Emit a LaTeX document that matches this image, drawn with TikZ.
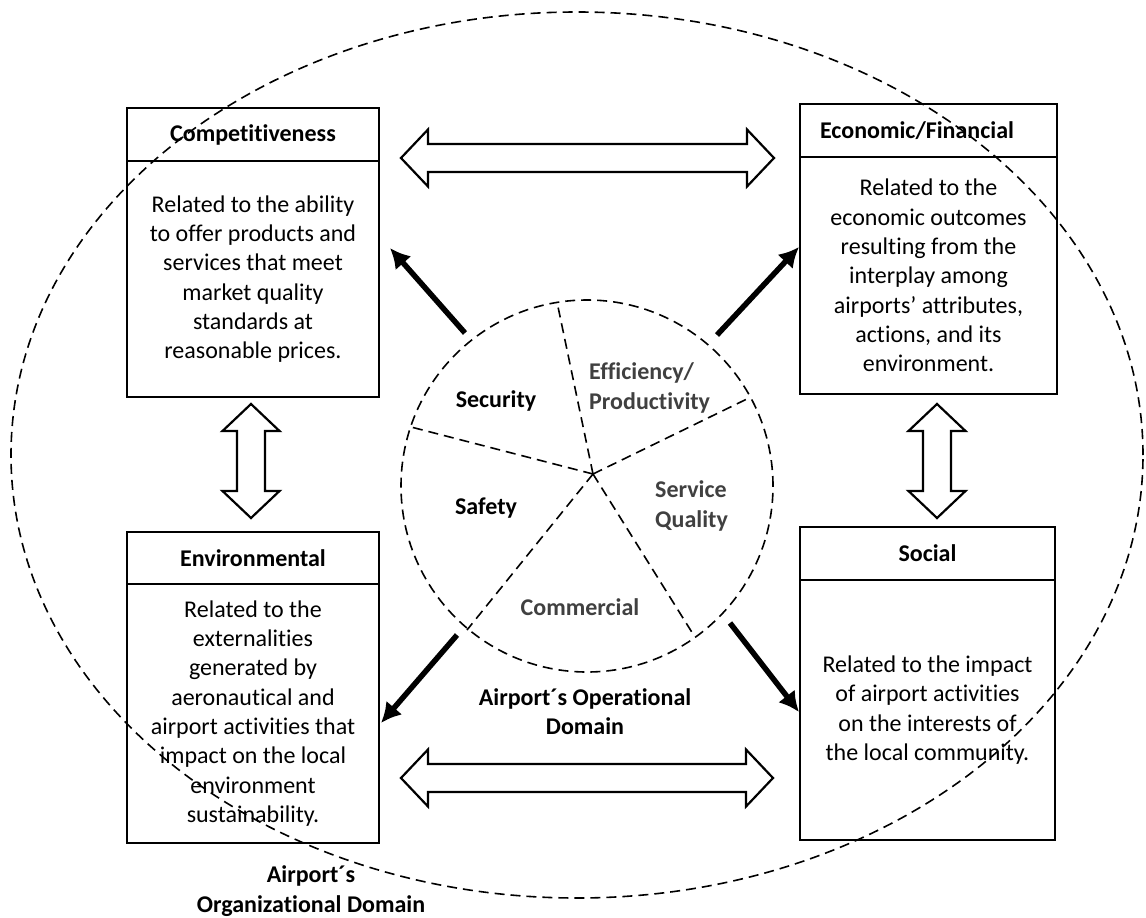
\documentclass[tikz,border=0pt]{standalone}
\usepackage{fontspec}
\setmainfont{Carlito}[Ligatures=NoCommon]
\usetikzlibrary{arrows.meta}
\definecolor{labelgray}{HTML}{404040}
\tikzset{
  % hollow double-headed block arrow of total length #1, centred on the pic origin
  dblarrow/.pic={
    \path[blockarrow] (-#1/2,0) -- (-#1/2+27,-28.5) -- (-#1/2+27,-14) -- (#1/2-27,-14)
      -- (#1/2-27,-28.5) -- (#1/2,0) -- (#1/2-27,28.5) -- (#1/2-27,14)
      -- (-#1/2+27,14) -- (-#1/2+27,28.5) -- cycle;
  }
}
\begin{document}
\begin{tikzpicture}[x=1pt,y=-1pt,
  every node/.style={font=\fontsize{24}{29.3}\selectfont},
  hdr/.style={draw, line width=2.4pt, minimum height=53pt, inner sep=0pt,
    font=\fontsize{24}{29.3}\selectfont\bfseries},
  bodybox/.style={draw, line width=2.4pt, inner sep=0pt, align=center},
  lbl/.style={inner sep=0pt, align=center, font=\fontsize{24}{29.3}\selectfont\bfseries},
  glbl/.style={lbl, text=labelgray},
  dashline/.style={dash pattern=on 10pt off 6pt, line width=1.6pt},
  thickarr/.style={line width=5.5pt, -{Latex[length=20pt,width=21pt]}},
  blockarrow/.style={draw, line width=2.2pt, fill=white, line join=miter},
]
\useasboundingbox (0,0) rectangle (1146,918);

% ---- four dimension boxes ----
\node[hdr, minimum width=252pt] (comp-h) at (253,134.5) {Competitiveness};
\node[bodybox, minimum width=252pt, minimum height=236pt] (comp-b) at (253,279)
  {Related to the ability\\to offer products and\\services that meet\\market quality\\standards at\\reasonable prices.};

\node[hdr, minimum width=257pt] (econ-h) at (928.5,130.5) {\hspace*{-23pt}Economic/Financial};
\node[bodybox, minimum width=257pt, minimum height=237pt] (econ-b) at (928.5,275.5)
  {Related to the\\economic outcomes\\resulting from the\\interplay among\\airports’ attributes,\\actions, and its\\environment.};

\node[hdr, minimum width=252pt, minimum height=52pt] (env-h) at (253,558) {Environmental};
\node[bodybox, minimum width=252pt, minimum height=259pt] (env-b) at (253,713.5)
  {Related to the\\externalities\\generated by\\aeronautical and\\airport activities that\\impact on the local\\environment\\sustainability.};

\node[hdr, minimum width=255pt] (soc-h) at (927.5,553.5) {Social};
\node[bodybox, minimum width=255pt, minimum height=260pt] (soc-b) at (927.5,710)
  {Related to the impact\\of airport activities\\on the interests of\\the local community.};

% ---- hollow double arrows between the boxes ----
\pic at (587.5,158) {dblarrow=373};
\pic at (587,778) {dblarrow=372};
\pic[rotate=90] at (251,461) {dblarrow=114};
\pic[rotate=90] at (937,461) {dblarrow=114};

% ---- operational domain pie ----
\node[draw, circle, dashline, minimum size=372pt, inner sep=0pt] (pie) at (587,486) {};
\coordinate (hub) at (593,474);
\coordinate (s1) at (557,302);
\coordinate (s2) at (751,397);
\coordinate (s3) at (411,427);
\coordinate (s4) at (467,630);
\coordinate (s5) at (693,634);
\foreach \s in {s1,s2,s3,s4,s5} \draw[dashline] (hub) -- (\s);

\node[lbl] (security) at (496,401) {Security};
\node[glbl, anchor=west, align=left] (effic) at (589,388) {Efficiency/\\Productivity};
\node[glbl, anchor=west, align=left] (servq) at (655,506) {Service\\Quality};
\node[lbl] (safety) at (486,508) {Safety};
\node[glbl] (commerc) at (580,607) {Commercial};

% ---- thick arrows from the pie to the boxes ----
\coordinate (a1s) at (465,333); \coordinate (a1e) at (390,248);
\coordinate (a2s) at (717,335); \coordinate (a2e) at (799,247);
\coordinate (a3s) at (457,635); \coordinate (a3e) at (381,723);
\coordinate (a4s) at (730,623); \coordinate (a4e) at (799,712);
\draw[thickarr] (a1s) -- (a1e);
\draw[thickarr] (a2s) -- (a2e);
\draw[thickarr] (a3s) -- (a3e);
\draw[thickarr] (a4s) -- (a4e);

\node[lbl] (opdom) at (585,711.5) {Airport´s Operational\\Domain};

% ---- organizational domain ----
\draw[dashline] (577,455) ellipse [x radius=566pt, y radius=443pt];
\node[lbl] (orgdom) at (311,891) {Airport´s\\Organizational Domain};
\end{tikzpicture}
\end{document}
